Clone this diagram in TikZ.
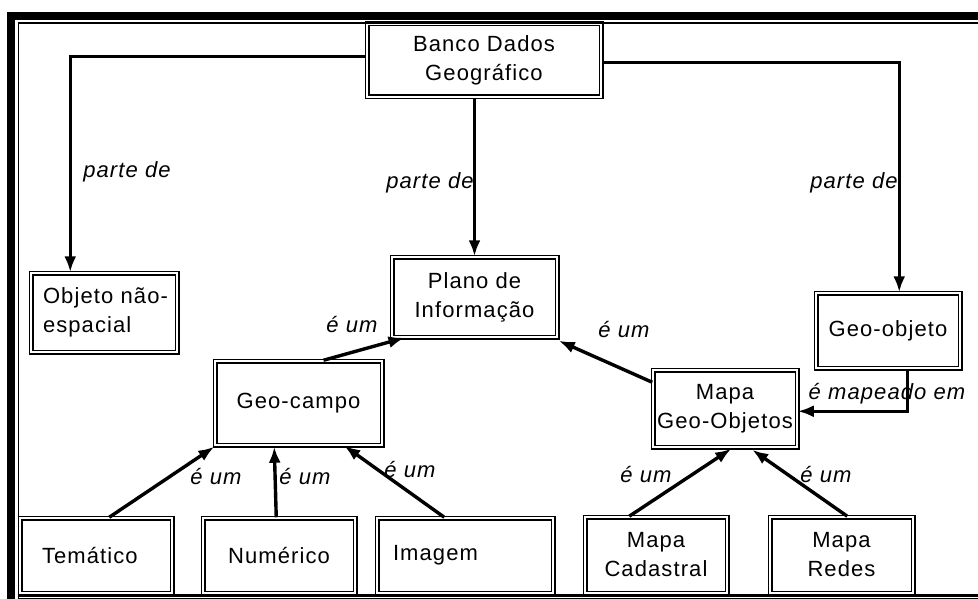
\documentclass[tikz,border=0pt]{standalone}
\usepackage{fontspec}
\setmainfont[LetterSpace=5]{Liberation Sans}
\usetikzlibrary{arrows.meta,calc}
\newcommand\dfont{\fontsize{22}{29}\selectfont}
\tikzset{
  box/.style={draw, line width=1.5pt, double, double distance=2pt, inner sep=0pt,
    font=\dfont, align=center, fill=white},
  lbl/.style={font=\dfont\itshape, inner sep=0pt},
  conn/.style={line width=3.4pt, -{Latex[length=16pt,width=12pt]}},
}
\begin{document}
\begin{tikzpicture}[x=1pt,y=-1pt]
\useasboundingbox (0,0) rectangle (978,599);
\fill[white] (0,0) rectangle (978,599);

% boxes
\node[box, minimum width=234pt, minimum height=73pt] (banco) at (484,60.5) {Banco Dados\\Geográfico};
\node[box, minimum width=146pt, minimum height=79pt, text width=122pt, align=left] (objeto) at (104,312.5) {\mbox{Objeto não-}\\espacial};
\node[box, minimum width=165pt, minimum height=80pt] (plano) at (474.5,297) {Plano de\\Informação};
\node[box, minimum width=167pt, minimum height=84pt] (geocampo) at (298.5,403) {Geo-campo};
\node[box, minimum width=144pt, minimum height=75pt] (geoobjeto) at (888,330.5) {Geo-objeto};
\node[box, minimum width=144pt, minimum height=77pt] (mapageo) at (725,408.5) {Mapa\\Geo-Objetos};
\node[box, minimum width=152pt, minimum height=75pt, text width=108pt, align=left] (tematico) at (96,555.5) {Temático};
\node[box, minimum width=152pt, minimum height=75pt] (numerico) at (279,555.5) {Numérico};
\node[box, minimum width=176pt, minimum height=75pt, text width=144pt, align=left] (imagem) at (465,555.5) {Imagem};
\node[box, minimum width=142pt, minimum height=76pt] (cadastral) at (656,555) {Mapa\\Cadastral};
\node[box, minimum width=143pt, minimum height=76pt] (redes) at (841.5,555) {Mapa\\Redes};

% connectors
\draw[conn] ($(banco.north west)+(0,33)$) -| ($(objeto.north west)+(40,0)$);
\draw[conn] ($(banco.north east)+(0,39)$) -| ($(geoobjeto.north west)+(84,0)$);
\draw[conn] (plano.north |- banco.south) -- (plano.north);
\draw[conn] ($(geocampo.north)+(25,0)$) -- ($(plano.south)+(-70,0)$);
\draw[conn] ($(mapageo.north west)+(0,13)$) -- ($(plano.south east)+(1,3)$);
\draw[conn] ($(geoobjeto.south west)+(92,0)$) |- ($(mapageo.north east)+(0,42)$);
\draw[conn] ($(tematico.north west)+(90,0)$) -- ($(geocampo.south west)+(0,1)$);
\draw[conn] ($(numerico.north west)+(74,0)$) -- ($(geocampo.south west)+(60,1)$);
\draw[conn] ($(imagem.north west)+(68,0)$) -- ($(geocampo.south west)+(130,0)$);
\draw[conn] ($(cadastral.north west)+(45,0)$) -- ($(mapageo.south west)+(79,1)$);
\draw[conn] ($(redes.north west)+(78,0)$) -- ($(mapageo.south west)+(100,2)$);

% labels
\node[lbl] (l1) at (127,172) {parte de};
\node[lbl] (l2) at (430,183) {parte de};
\node[lbl] (l3) at (854,183) {parte de};
\node[lbl] (l4) at (352,325) {é um};
\node[lbl] (l5) at (624,330) {é um};
\node[lbl] (l6) at (887,394) {é mapeado em};
\node[lbl] (l7) at (216,477) {é um};
\node[lbl] (l8) at (305,477) {é um};
\node[lbl] (l9) at (410,470) {é um};
\node[lbl] (l10) at (646,475) {é um};
\node[lbl] (l11) at (826,475) {é um};

% frame
\fill[black] (7,12) rectangle (978,20);
\fill[black] (7,12) rectangle (15,599);
\draw[line width=1.6pt] (18.5,599) -- (18.5,22.8) -- (978,22.8);
\draw[line width=3pt] (17.5,595) -- (978,595);
\draw[line width=1pt] (17.5,598.5) -- (978,598.5);
\end{tikzpicture}
\end{document}
